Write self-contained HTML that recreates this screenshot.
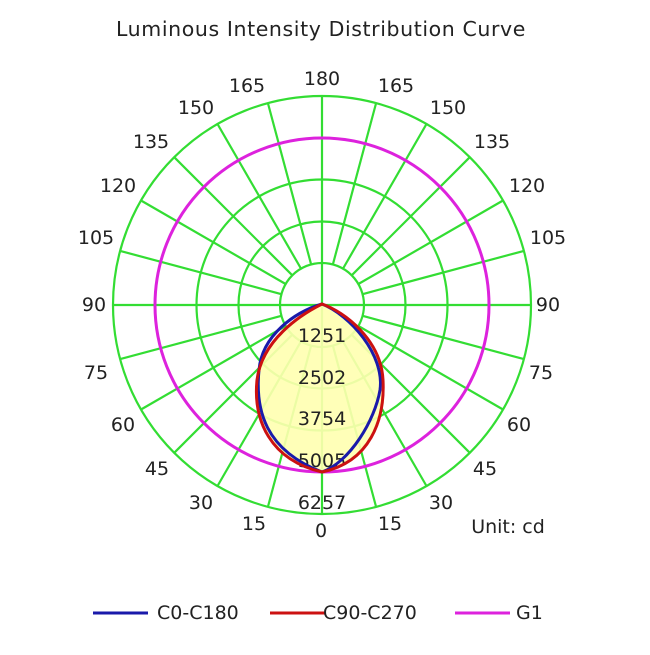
<!DOCTYPE html>
<html><head><style>body{margin:0;background:#fff}</style></head><body>
<svg width="650" height="650" xmlns="http://www.w3.org/2000/svg" font-family="DejaVu Sans, Liberation Sans, sans-serif">
<text x="321" y="29" font-size="20.5" text-anchor="middle" dominant-baseline="central" fill="#222" letter-spacing="0.6">Luminous Intensity Distribution Curve</text>
<g id="grid" stroke="#33dd33" stroke-width="2.2" fill="none">
<circle cx="322" cy="305" r="42"/><circle cx="322" cy="305" r="83.5"/><circle cx="322" cy="305" r="125.5"/><circle cx="322" cy="305" r="167"/><circle cx="322" cy="305" r="209"/>
<line x1="113" y1="305" x2="531" y2="305"/><line x1="322" y1="96" x2="322" y2="514"/>
</g>
<g id="spokes" stroke="#33dd33" stroke-width="2.2"></g>
<path fill="#ffffb0" opacity="0.9" d="M322,304 C300,315 262,340 257,380 C253,420 270,460 322,472 C370,462 385,420 383,380 C381,340 345,312 322,304Z"/>
<circle cx="322" cy="305" r="167" fill="none" stroke="#dd22dd" stroke-width="3"/>
<g font-size="19" fill="#222" text-anchor="middle" dominant-baseline="central">
<text x="322" y="336">1251</text><text x="322" y="378">2502</text><text x="322" y="419">3754</text><text x="322" y="461">5005</text><text x="322" y="503">6257</text>
</g>
<path fill="none" stroke="#1a1aaa" stroke-width="3" d="M322,304 C295,312 262,335 259,370 C255,410 265,450 322,472 C350,462 375,420 380,390 C385,355 350,315 322,304Z"/>
<path fill="none" stroke="#cc1111" stroke-width="3" d="M322,304 C300,315 262,340 257,380 C253,420 270,460 322,472 C370,462 385,420 383,380 C381,340 345,312 322,304Z"/>
<g font-size="19" fill="#222" text-anchor="middle" dominant-baseline="central">
<text x="322" y="79">180</text>
<text x="247" y="86">165</text><text x="396" y="86">165</text>
<text x="196" y="108">150</text><text x="448" y="108">150</text>
<text x="151" y="142">135</text><text x="492" y="142">135</text>
<text x="118" y="186">120</text><text x="527" y="186">120</text>
<text x="96" y="238">105</text><text x="548" y="238">105</text>
<text x="94" y="305">90</text><text x="548" y="305">90</text>
<text x="96" y="373">75</text><text x="541" y="373">75</text>
<text x="123" y="425">60</text><text x="519" y="425">60</text>
<text x="157" y="469">45</text><text x="485" y="469">45</text>
<text x="201" y="503">30</text><text x="441" y="503">30</text>
<text x="254" y="524">15</text><text x="390" y="524">15</text>
<text x="321" y="531">0</text>
<text x="508" y="527">Unit: cd</text>
</g>
<line x1="93" y1="613" x2="148" y2="613" stroke="#1a1aaa" stroke-width="3"/>
<line x1="270" y1="613" x2="325" y2="613" stroke="#cc1111" stroke-width="3"/>
<line x1="455" y1="613" x2="510" y2="613" stroke="#dd22dd" stroke-width="3"/>
<g font-size="19" fill="#222" dominant-baseline="central">
<text x="157" y="613">C0-C180</text>
<text x="323" y="613">C90-C270</text>
<text x="516" y="613">G1</text>
</g>
</svg>
<script>
var s=document.getElementById('spokes'),ns='http://www.w3.org/2000/svg';
for(var a=15;a<360;a+=15){if(a%90==0)continue;var r=a*Math.PI/180;var e=document.createElementNS(ns,'line');
e.setAttribute('x1',322+42*Math.sin(r));e.setAttribute('y1',305+42*Math.cos(r));e.setAttribute('x2',322+209*Math.sin(r));e.setAttribute('y2',305+209*Math.cos(r));s.appendChild(e);}
</script>
</body></html>
